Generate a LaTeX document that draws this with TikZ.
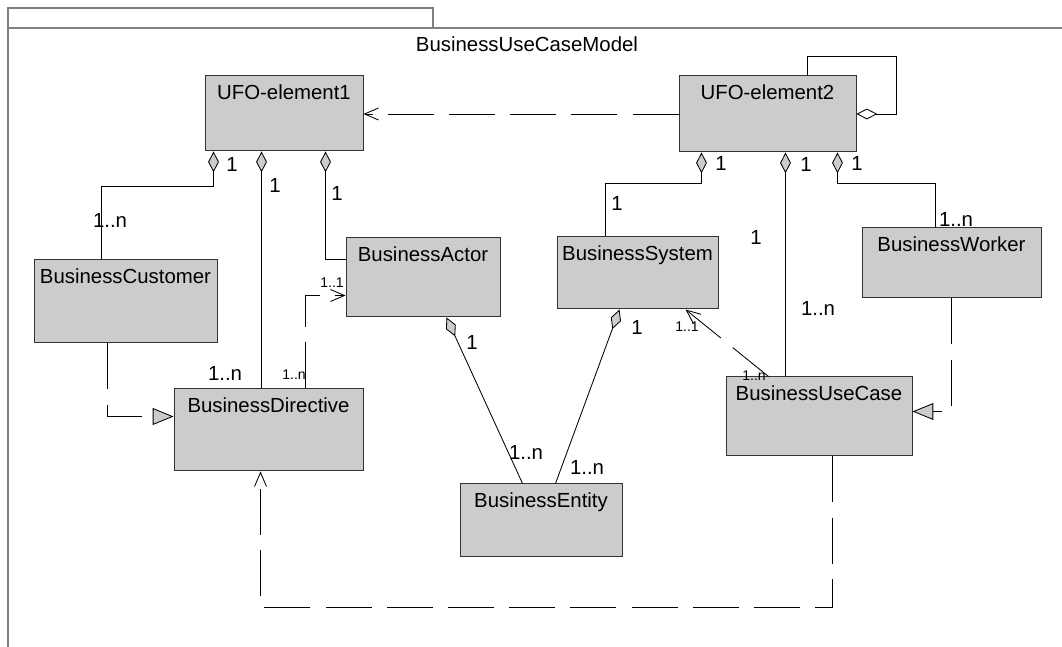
\documentclass[tikz,border=0pt]{standalone}
\usepackage{fontspec}
\setmainfont{Liberation Sans}
\usepackage{tikz}
\usetikzlibrary{arrows.meta}
\definecolor{boxgray}{RGB}{204,204,204}
\definecolor{framegray}{RGB}{128,128,128}
\tikzset{%
	frame/.style     = {draw=framegray, line width=1.1pt},
	classbox/.style  = {draw=black!80, fill=boxgray, rectangle, line width=0.7pt, inner sep=0pt},
	classname/.style = {anchor=base, inner sep=0pt, font=\fontsize{14.5}{17}\selectfont},
	mult/.style      = {inner sep=0pt, font=\fontsize{14.5}{17}\selectfont},
	smallmult/.style = {inner sep=0pt, font=\fontsize{10}{12}\selectfont},
	aggr/.style      = {line width=0.6pt, arrows={Diamond[fill=#1,length=0.52cm,width=0.27cm]-}},
	aggr/.default    = boxgray,
	gener/.style     = {line width=0.6pt, dash pattern=on 1.15cm off 0.38cm, arrows={-Triangle[fill=boxgray,length=0.52cm,width=0.42cm]}},
	depend/.style    = {line width=0.6pt, dash pattern=on 1.15cm off 0.38cm, arrows={-Straight Barb[length=0.35cm,width=0.3cm]}},
}

\begin{document}
\begin{tikzpicture}
	\useasboundingbox (0,0) rectangle (26.55,16.175);
	
	% package frame with its tab
	\draw[frame] (0.2,15.475) rectangle (10.825,15.975);
	\draw[frame] (0.2,0) |- (26.55,15.475);
	\node[font=\fontsize{14.5}{17}\selectfont] (modelname) at (13.175,15.075) {BusinessUseCaseModel};
	
	% classes: name/x/y/width/height/text
	\foreach \nm/\x/\y/\w/\h/\txt in {
		ufoa/7.1/13.3375/3.95/1.875/UFO-element1,
		ufob/19.1875/13.325/4.425/1.9/UFO-element2,
		customer/3.1375/8.6375/4.575/2.075/BusinessCustomer,
		actor/10.575/9.2375/3.85/1.975/BusinessActor,
		system/15.9375/9.35/4.025/1.8/BusinessSystem,
		worker/23.7875/9.6/4.475/1.75/BusinessWorker,
		directive/6.7125/5.425/4.725/2.05/BusinessDirective,
		usecase/20.475/5.7625/4.65/1.975/BusinessUseCase,
		entity/13.525/3.1625/4.05/1.825/BusinessEntity}
	{
		\node[classbox, minimum width=\w cm, minimum height=\h cm] (\nm) at (\x,\y) {};
		\node[classname] (\nm-name) at ([yshift=-0.6cm]\nm.north) {\txt};
	}
	
	% aggregations of UFO-element1
	\draw[aggr] ([xshift=0.225cm]ufoa.south west) -- ++(0,-0.875) -| ([xshift=1.7cm]customer.north west);
	\draw[aggr] ([xshift=1.425cm]ufoa.south west) -- ([xshift=2.2cm]directive.north west);
	\draw[aggr] ([xshift=3.025cm]ufoa.south west) |- ([yshift=-0.55cm]actor.north west);
	
	% aggregations of UFO-element2
	\draw[aggr=white] (ufob.east) -- ++(1,0) |- ([xshift=3.225cm,yshift=0.475cm]ufob.north west) -- ([xshift=3.225cm]ufob.north west);
	\draw[aggr] ([xshift=0.575cm]ufob.south west) -- ++(0,-0.775) -| ([xshift=1.225cm]system.north west);
	\draw[aggr] ([xshift=2.675cm]ufob.south west) -- ([xshift=1.5cm]usecase.north west);
	\draw[aggr] ([xshift=3.975cm]ufob.south west) -- ++(0,-0.775) -| ([xshift=1.85cm]worker.north west);
	
	% entities
	\draw[aggr] ([xshift=2.525cm]actor.south west) -- ([xshift=1.575cm]entity.north west);
	\draw[aggr] ([xshift=1.575cm]system.south west) -- ([xshift=2.4cm]entity.north west);
	
	% generalizations
	\draw[gener] ([xshift=1.85cm]customer.south west) |- ([yshift=-0.7cm]directive.north west);
	\draw[gener] ([xshift=2.25cm]worker.south west) |- ([yshift=-0.875cm]usecase.north east);
	
	% dependencies
	\draw[depend] (ufob.west) -- (ufob.west -| ufoa.east);
	\draw[depend] ([xshift=3.3cm]directive.north west) |- ([yshift=-1.45cm]actor.north west);
	\draw[depend] ([xshift=1.075cm]usecase.north west) -- ([xshift=3.225cm]system.south west);
	\draw[depend] ([xshift=2.675cm]usecase.south west) -- ++(0,-3.775) -| ([xshift=2.175cm]directive.south west);
	
	% multiplicities
	\foreach \x/\y/\m [count=\i] in {5.8/12.05/1, 6.875/11.55/1, 8.425/11.35/1, 2.75/10.675/1..n, 5.625/6.85/1..n,
		11.8/7.625/1, 13.15/4.875/1..n, 14.675/4.5/1..n, 15.925/8.0/1,
		18.025/12.1/1, 20.15/12.05/1, 21.425/12.1/1, 15.425/11.1/1, 18.9/10.25/1, 20.45/8.475/1..n, 23.9/10.7/1..n}
		\node[mult] (mult\i) at (\x,\y) {\m};
	\foreach \x/\y/\m [count=\i] in {8.3/9.1/1..1, 7.35/6.8/1..n, 17.175/8.0/1..1, 18.85/6.78/1..n}
		\node[smallmult] (smallmult\i) at (\x,\y) {\m};
\end{tikzpicture}
\end{document}
